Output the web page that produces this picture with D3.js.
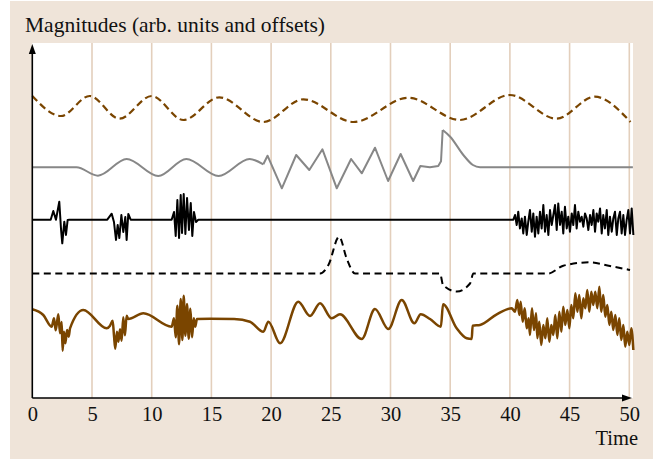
<!DOCTYPE html>
<html>
<head>
<meta charset="utf-8">
<script src="https://cdn.jsdelivr.net/npm/d3@7"></script>
<style>
  html, body { margin: 0; padding: 0; background: #fff; }
  svg { display: block; }
</style>
</head>
<body>
<div id="chart"></div>
<script>
// x ticks (time)
const xTicks = [0, 5, 10, 15, 20, 25, 30, 35, 40, 45, 50]

// vertical offsets of each trace (arb. units)
const offsetWave = 290
const offsetGray = 230.7
const offsetBlack = 178.3
const offsetPulse = 124.5
const offsetBrown = 79

// [time, value] pairs
const wave = [[0, 12], [2.4, -8], [4.8, 12], [7.3, -10.7], [10.0, 12], [12.65, -12], [15.66, 10.7],
  [19.35, -14], [22.7, 8.7], [26.9, -14], [31.5, 10.3], [35.8, -12], [40.0, 13], [43.9, -10.7],
  [47.1, 11.3], [50.1, -14]]

const grayStart = [[0, 0], [3.7, 0], [5.5, -8.4], [7.9, 8.3], [10.55, -8.7], [12.9, 8.3], [15.6, -8.7],
  [18.2, 8.3], [19.35, 3]]
const grayZigzag = [[19.35, 3], [19.7, 11.6], [20.9, -21], [22.1, 12.3], [23.2, -2.7], [24.3, 18],
  [25.5, -21], [26.7, 8.3], [27.6, -6], [28.7, 19.6], [29.8, -13.7], [30.85, 13.3], [31.9, -13.7],
  [32.5, 1.3], [33.3, 0], [34.0, 1.3], [34.23, 6], [34.37, 37.3]]
const grayDecay = [[34.37, 37.3], [35.0, 30.6], [36.1, 12.3], [36.9, 2.3], [37.5, 0], [50.3, 0]]

const black = [[0, 0], [1.54, 0], [1.76, 8.7], [1.98, 0], [2.26, 18], [2.40, -8.6], [2.51, -23.6],
  [2.68, -2], [2.82, -15.3], [2.96, -0.3], [3.10, 0],
  [6.28, 0], [6.65, 6], [6.84, -2.3], [7.01, -20.3], [7.15, -5.3], [7.29, -18.3], [7.46, 4.7],
  [7.62, -12.3], [7.79, 2.7], [7.90, -20.3], [8.04, 5.7], [8.24, 0],
  [11.67, 0], [11.87, 7.7], [12.01, -16.3], [12.15, 19.7], [12.29, -18.3], [12.43, 24.7],
  [12.54, -13.3], [12.68, 25.7], [12.82, -14.3], [12.96, 21.7], [13.12, -10.3], [13.27, 16.7],
  [13.40, -16.3], [13.54, 7.7], [13.71, -2.3], [13.9, 0],
  [40.29, 0], [40.43, 4.7], [40.57, -5.3], [40.70, 8], [40.84, -8.7], [40.99, 1.3], [41.12, -13.7],
  [41.26, 3], [41.41, -15.3], [41.54, -2], [41.68, 9.7], [41.83, -12], [41.96, 6.3], [42.10, -17],
  [42.24, 3], [42.38, -13.7], [42.52, 8], [42.66, -8.7], [42.80, 14.7], [42.94, -12], [43.08, 4.7],
  [43.22, -15.3], [43.36, 9.7], [43.50, -5.3], [43.64, 4.7], [43.78, 14.7], [43.92, -10.3],
  [44.05, 16.3], [44.20, -5.3], [44.34, 8], [44.47, -13.7], [44.61, 13], [44.76, -8.7], [44.89, 3],
  [45.03, -12], [45.18, 6.3], [45.31, -5.3], [45.45, 14.7], [45.59, -8.7], [45.73, 8], [45.87, -2],
  [46.01, 3], [46.15, -7], [46.29, 6.3], [46.43, 1.3], [46.57, -10.3], [46.71, 4.7], [46.85, -5.3],
  [46.99, 9.7], [47.13, -12], [47.27, 6.3], [47.40, -2], [47.55, 11.3], [47.69, -13.7], [47.82, 4.7],
  [47.96, -8.7], [48.11, 9.7], [48.24, -15.3], [48.38, 3], [48.53, -12], [48.66, 1.3], [48.80, 8],
  [48.95, -15.3], [49.08, 1.3], [49.22, 8], [49.36, -13.7], [49.50, 4.7], [49.64, -15.3],
  [49.78, -0.3], [49.92, 9.7], [50.06, -13.7], [50.20, 11.3], [50.34, -15.3]]

const pulse = [[0, 0], [24.1, 0], [24.8, 8.5], [25.7, 36.8], [26.33, 15], [27.03, 0], [34.15, 0],
  [34.4, -11.5], [35.55, -18], [36.66, -10], [36.94, 0], [43.2, 0], [44.47, 7.8], [46.7, 11.2],
  [48.38, 7.5], [50.06, 3.5]]

const brown = [[0, 9.7], [0.92, 4], [1.62, -7.7], [1.82, 0.7], [1.96, -11.3], [2.18, 4.7],
  [2.32, -14.3], [2.46, -3], [2.54, -31.7], [2.65, -12.7], [2.77, -24.3], [2.91, -11], [3.05, -17.7],
  [3.16, -9.3], [4.27, 9], [6.23, -9.3], [6.51, -6.7], [6.73, -1.7], [6.84, -16.3], [6.95, -29.7],
  [7.09, -12.7], [7.21, -22.7], [7.35, -10.3], [7.48, -21.7], [7.62, 1.7], [7.76, -16.3], [7.90, 3.3],
  [8.04, 0], [9.30, 5.7], [11.67, -7.7], [11.87, 0.7], [12.01, -18.3], [12.15, 13.3], [12.29, -25.3],
  [12.43, 20], [12.57, -21], [12.68, 23.3], [12.82, -16.7], [12.96, 15], [13.10, -19.7], [13.24, 10.3],
  [13.38, -18.3], [13.52, 0.7], [13.65, -7.7], [13.79, 0], [14.88, 0.3], [16.9, 0], [18.23, -2.7],
  [19.35, -12.7], [19.77, -2.7], [20.75, -24.3], [22.28, 17.3], [23.26, 3], [24.1, 15.7],
  [25.08, 0.7], [25.77, 4.7], [27.59, -20], [28.70, 10], [29.82, -10], [30.94, 19], [32.0, -4.3],
  [32.53, 4.7], [33.31, 0], [34.22, -7.7], [34.4, 14.7], [35.54, -9.3], [36.38, -19.3], [36.8, -20],
  [36.88, -6.7], [37.5, -6], [38.9, 4.7], [40.15, 10.7],
  [40.43, 7.3], [40.62, 19], [40.79, 4], [40.90, 17.3], [41.07, -2.7], [41.24, 10.7], [41.41, -9.3],
  [41.57, 0.7], [41.68, -16], [41.85, 10.7], [42.02, -11], [42.19, 5.7], [42.30, -19.3], [42.46, -2.7],
  [42.63, -26], [42.80, -6], [42.97, -19.3], [43.13, 0.7], [43.30, -22.7], [43.47, -6], [43.64, -16],
  [43.80, 4], [43.97, -19.3], [44.14, 7.3], [44.31, -12.7], [44.47, 12.3], [44.64, -6], [44.81, 9],
  [44.98, -9.3], [45.14, 14], [45.31, 0.7], [45.48, 25.7], [45.65, 7.3], [45.81, 24], [45.98, 0.7],
  [46.15, 20.7], [46.32, 10.7], [46.48, 29], [46.65, 7.3], [46.82, 27.3], [46.98, 14], [47.15, 27.3],
  [47.32, 10.7], [47.49, 32.3], [47.65, 7.3], [47.82, 24], [47.99, 2.3], [48.16, 14], [48.33, -6],
  [48.49, 7.3], [48.66, -11], [48.83, 4], [49.00, -16], [49.16, 0.7], [49.33, -21], [49.50, -6],
  [49.66, -27.7], [49.83, -12.7], [50.00, -26], [50.17, -9.3], [50.34, -31]]

const BROWN = '#7a4500'
const serif = '"Liberation Serif", "Times New Roman", serif'

const svg = d3.select('#chart').append('svg')
  .attr('width', 661)
  .attr('height', 459)

// panel background
svg.append('rect')
  .attr('x', 10).attr('y', 1).attr('width', 643).attr('height', 458)
  .attr('fill', '#efe4d9')

const x = d3.scaleLinear().domain([0, 50]).range([32.3, 629.3])
const y = d3.scaleLinear().domain([0, 355]).range([398, 43])

svg.append('rect')
  .attr('x', x(0)).attr('y', y(355))
  .attr('width', 633 - x(0)).attr('height', y(0) - y(355))
  .attr('fill', '#fff')

// grid
svg.append('g').selectAll('line')
  .data(xTicks.filter((d) => d > 0))
  .join('line')
  .attr('x1', (d) => x(d)).attr('x2', (d) => x(d))
  .attr('y1', y(355)).attr('y2', y(0))
  .attr('stroke', '#e3cfbc')
  .attr('stroke-width', 1.6)

const line = (off, curve) => d3.line()
  .x((d) => x(d[0]))
  .y((d) => y(d[1] + off))
  .curve(curve)

const traces = [
  { data: wave, off: offsetWave, curve: d3.curveMonotoneX, color: BROWN, w: 2.2, dash: '7,4' },
  { data: grayStart, off: offsetGray, curve: d3.curveMonotoneX, color: '#878787', w: 2 },
  { data: grayZigzag, off: offsetGray, curve: d3.curveLinear, color: '#878787', w: 2 },
  { data: grayDecay, off: offsetGray, curve: d3.curveMonotoneX, color: '#878787', w: 2 },
  { data: black, off: offsetBlack, curve: d3.curveLinear, color: '#000', w: 2 },
  { data: pulse, off: offsetPulse, curve: d3.curveMonotoneX, color: '#000', w: 2, dash: '7,4.5' },
  { data: brown, off: offsetBrown, curve: d3.curveMonotoneX, color: BROWN, w: 2.5 },
]

svg.append('g').selectAll('path')
  .data(traces)
  .join('path')
  .attr('d', (d) => line(d.off, d.curve)(d.data))
  .attr('fill', 'none')
  .attr('stroke', (d) => d.color)
  .attr('stroke-width', (d) => d.w)
  .attr('stroke-dasharray', (d) => d.dash || null)
  .attr('stroke-linejoin', 'round')

// axes with arrow heads
const axes = svg.append('g').attr('stroke', '#000').attr('stroke-width', 1.6)
axes.append('line').attr('x1', x(0)).attr('x2', x(0)).attr('y1', y(0)).attr('y2', 50)
axes.append('line').attr('x1', x(0)).attr('x2', 625).attr('y1', y(0)).attr('y2', y(0))
svg.append('path')
  .attr('d', `M${x(0)},44 L${x(0) - 3.5},54 L${x(0) + 3.5},54 Z`)
  .attr('fill', '#000')
svg.append('path')
  .attr('d', `M632,${y(0)} L622,${y(0) - 3.5} L622,${y(0) + 3.5} Z`)
  .attr('fill', '#000')

const xAxis = svg.append('g')
  .attr('transform', `translate(0,${y(0)})`)
  .call(d3.axisBottom(x).tickValues(xTicks).tickSize(0).tickPadding(8))
xAxis.select('.domain').remove()
xAxis.selectAll('text')
  .attr('fill', '#111')
  .style('font-family', serif)
  .style('font-size', '20.5px')

svg.append('text')
  .attr('x', 25).attr('y', 32)
  .attr('fill', '#111')
  .style('font-family', serif)
  .style('font-size', '21.5px')
  .text('Magnitudes (arb. units and offsets)')

svg.append('text')
  .attr('x', 638).attr('y', 445)
  .attr('text-anchor', 'end')
  .attr('fill', '#111')
  .style('font-family', serif)
  .style('font-size', '20.5px')
  .text('Time')
</script>
</body>
</html>
